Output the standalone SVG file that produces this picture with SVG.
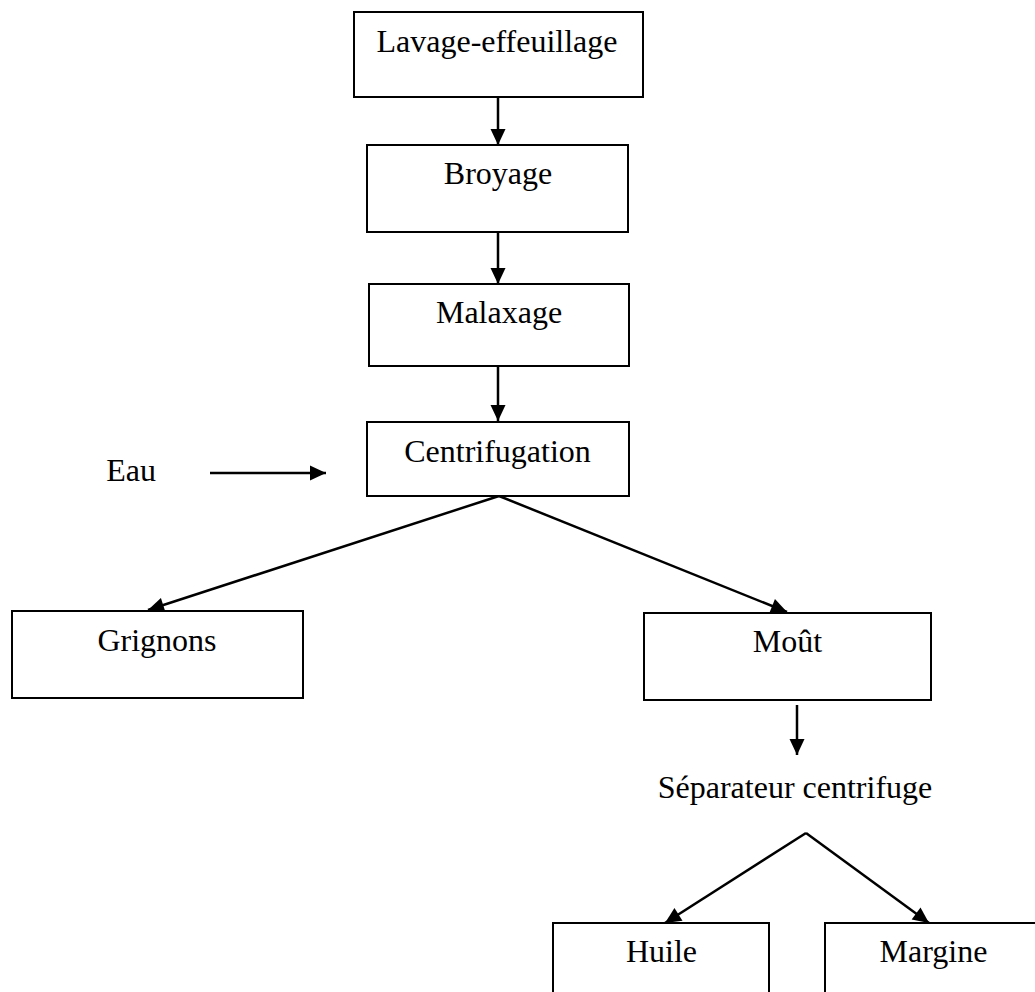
<svg xmlns="http://www.w3.org/2000/svg" width="1035" height="992" viewBox="0 0 1035 992">
<style>
.box{fill:#fff;stroke:#000;stroke-width:2}
.lbl{font-family:"Liberation Serif","Times New Roman",serif;font-size:32px;fill:#000;text-anchor:middle}
.con{stroke:#000;stroke-width:2.5;fill:none;marker-end:url(#ah)}
</style>
<defs>
<marker id="ah" markerUnits="userSpaceOnUse" markerWidth="18" markerHeight="17" refX="16" refY="7.5" orient="auto" overflow="visible">
<path d="M0,0 L16,7.5 L0,15 z" fill="#000"/>
</marker>
</defs>
<rect width="1035" height="992" fill="#fff"/>
<g id="connectors">
<line class="con" x1="498" y1="97" x2="498" y2="145"/>
<line class="con" x1="498" y1="232" x2="498" y2="284"/>
<line class="con" x1="498" y1="366" x2="498" y2="421"/>
<line class="con" x1="210" y1="473" x2="326" y2="473"/>
<line class="con" x1="499" y1="496" x2="148" y2="610"/>
<line class="con" x1="499" y1="496" x2="787" y2="612"/>
<line class="con" x1="797" y1="705" x2="797" y2="755"/>
<line class="con" x1="806" y1="833" x2="665" y2="923"/>
<line class="con" x1="806" y1="833" x2="929" y2="923"/>
</g>
<g id="lavage">
<rect class="box" x="354" y="12" width="289" height="85"/>
<text class="lbl" x="497" y="52">Lavage-effeuillage</text>
</g>
<g id="broyage">
<rect class="box" x="367" y="145" width="261" height="87"/>
<text class="lbl" x="498" y="184">Broyage</text>
</g>
<g id="malaxage">
<rect class="box" x="369" y="284" width="260" height="82"/>
<text class="lbl" x="499" y="323">Malaxage</text>
</g>
<g id="centrifugation">
<rect class="box" x="367" y="422" width="262" height="74"/>
<text class="lbl" x="497.5" y="462">Centrifugation</text>
</g>
<g id="eau">
<text class="lbl" x="131" y="481">Eau</text>
</g>
<g id="grignons">
<rect class="box" x="12" y="611" width="291" height="87"/>
<text class="lbl" x="157" y="651">Grignons</text>
</g>
<g id="mout">
<rect class="box" x="644" y="613" width="287" height="87"/>
<text class="lbl" x="787.5" y="652">Moût</text>
</g>
<g id="separateur">
<text class="lbl" x="795" y="798">Séparateur centrifuge</text>
</g>
<g id="huile">
<rect class="box" x="553" y="923" width="216" height="90"/>
<text class="lbl" x="661.5" y="962">Huile</text>
</g>
<g id="margine">
<rect class="box" x="825" y="923" width="217" height="90"/>
<text class="lbl" x="933.5" y="962">Margine</text>
</g>
</svg>
